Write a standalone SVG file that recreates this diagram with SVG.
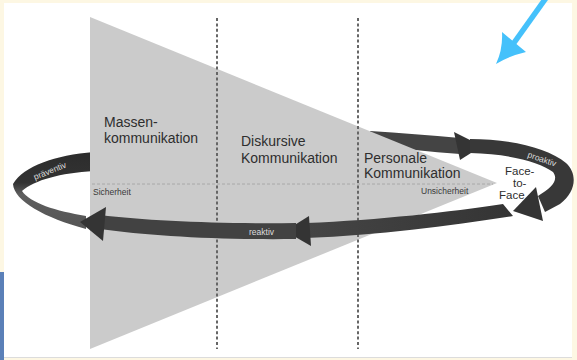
<svg xmlns="http://www.w3.org/2000/svg" width="577" height="360" viewBox="0 0 577 360">
<defs>
<style>
.lbl{font-family:"Liberation Sans",Arial,sans-serif;font-size:14px;fill:#2e2e2e}
.sm{font-family:"Liberation Sans",Arial,sans-serif;font-size:8.5px;fill:#3a3a3a}
.band-t{font-family:"Liberation Sans",Arial,sans-serif;font-size:8.5px;fill:#dcdcdc}
.face{font-family:"Liberation Sans",Arial,sans-serif;font-size:11.5px;fill:#2e2e2e}
.vdash{stroke:#666;stroke-width:2;stroke-dasharray:3 2.4;fill:none}
.hdash{stroke:#a8a8a8;stroke-width:1;stroke-dasharray:3 2;fill:none}
.head{fill:#343434}
</style>
<linearGradient id="gLeft" x1="0" y1="0" x2="0" y2="1">
<stop offset="0" stop-color="#2c2c2c"/>
<stop offset="0.4" stop-color="#333"/>
<stop offset="0.55" stop-color="#5e5e5e"/>
<stop offset="1" stop-color="#555"/>
</linearGradient>
<linearGradient id="gFront" x1="0" y1="0" x2="1" y2="0">
<stop offset="0" stop-color="#454545"/>
<stop offset="1" stop-color="#343434"/>
</linearGradient>
</defs>
<rect x="0" y="0" width="577" height="360" fill="#fdf7e3"/>
<rect x="4" y="3" width="568" height="354" fill="#ffffff"/>
<line x1="4" y1="357.5" x2="572" y2="357.5" stroke="#dcdcdc" stroke-width="1"/>
<rect x="0" y="272" width="4" height="88" fill="#5b80b8"/>

<g id="blue-arrow">
<line x1="546" y1="-2" x2="511" y2="47" stroke="#45c1fb" stroke-width="5.5"/>
<path d="M496,64 Q503,49 502,32 L514,42 L526,52 Q509,56 496,64 Z" fill="#45c1fb"/>
</g>

<g id="connectors-back">
<path d="M94,152 C55,155 24,166 13,184 C14,201 45,218 86,229 L86,216 C56,211 30,203 22,191 C35,180 60,173 94,171 Z" fill="url(#gLeft)"/>
<path d="M370,131 C400,133 430,135 460,138 L460,154 C430,152 400,148 370,146 Z" fill="#444"/>
</g>

<g id="triangle">
<polygon points="90,17 497,183 90,349" fill="#cbcbcb"/>
<line class="hdash" x1="92" y1="184" x2="493" y2="184"/>
<line class="vdash" x1="217" y1="18" x2="217" y2="349"/>
<line class="vdash" x1="358" y1="18" x2="358" y2="349"/>
<text class="sm" x="93" y="195">Sicherheit</text>
<text class="sm" x="421" y="194">Unsicherheit</text>
</g>

<g id="node-massen">
<text class="lbl" x="104" y="127">Massen-</text>
<text class="lbl" x="104" y="143">kommunikation</text>
</g>
<g id="node-diskursiv">
<text class="lbl" x="241" y="146">Diskursive</text>
<text class="lbl" x="241" y="163">Kommunikation</text>
</g>
<g id="node-personal">
<text class="lbl" x="364" y="163">Personale</text>
<text class="lbl" x="364" y="178">Kommunikation</text>
</g>

<g id="connectors">
<polygon class="head" points="482,146 454,132 460,160"/>
<path d="M470,139 C510,139 548,148 566,163 C578,174 576,192 560,204 L545,212 L538,196 C552,188 559,180 553,172 C540,162 510,154 470,153 Z" fill="#383838"/>
<polygon class="head" points="513,211 536,187 543,221"/>
<path d="M306,223 C380,220 450,212 503,204 L513,216 C450,226 380,235 306,238 Z" fill="url(#gFront)"/>
<polygon class="head" points="285,231 309,216 311,246"/>
<path d="M100,215 C150,221 220,224 296,223 L296,239 C220,240 150,236 100,229 Z" fill="#424242"/>
<polygon class="head" points="80,222 106,207 103,241"/>
<text class="band-t" x="35" y="180" transform="rotate(-22 35 180)">präventiv</text>
<text class="band-t" x="249" y="235" font-size="8">reaktiv</text>
<text class="band-t" x="527" y="157" transform="rotate(19 527 157)">proaktiv</text>
</g>

<g id="node-face">
<text class="face" x="505" y="175">Face-</text>
<text class="face" x="513" y="187">to-</text>
<text class="face" x="499" y="199">Face</text>
</g>
</svg>
